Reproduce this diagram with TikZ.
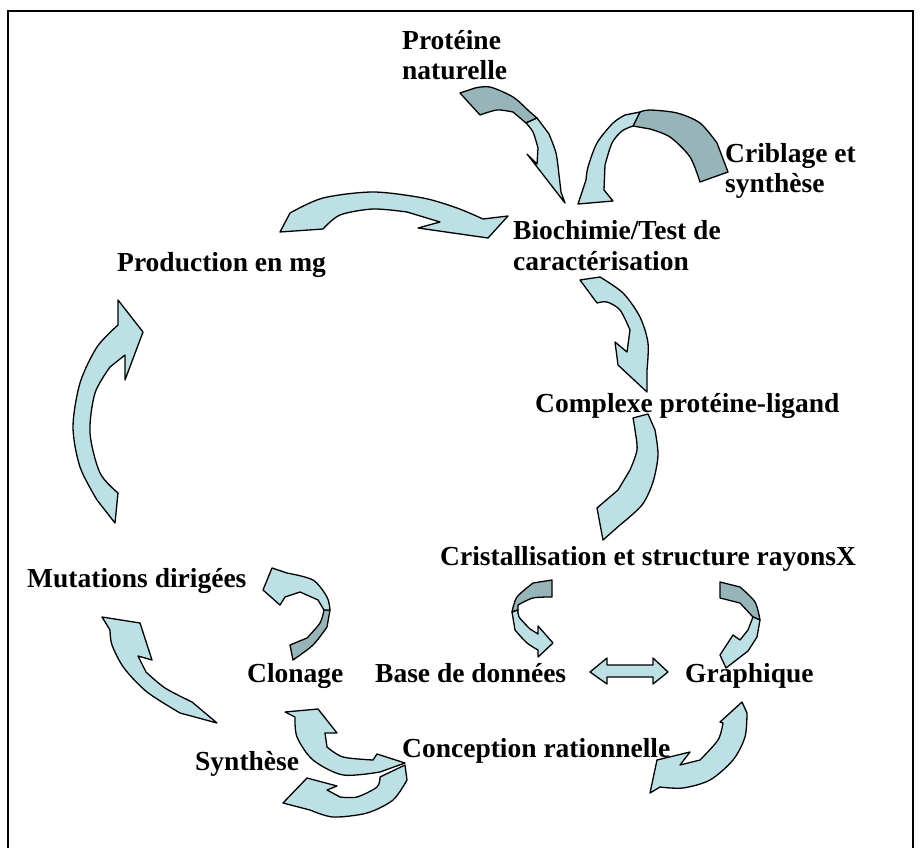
\documentclass[tikz,border=0pt]{standalone}
\usepackage{fontspec}
\setmainfont{Liberation Serif}
\definecolor{lite}{RGB}{188,224,228}
\definecolor{dark}{RGB}{151,181,184}
\tikzset{
  body/.style={fill=lite,draw=black,line width=1.3pt,line join=round},
  back/.style={fill=dark,draw=black,line width=1.3pt,line join=round},
  lbl/.style={anchor=base west,inner sep=0pt,font=\fontsize{27.5}{31}\selectfont\bfseries},
}
% label: name, x, y, text
\newcommand\lab[4]{\node[lbl] (#1) at (#2,#3) {#4};}
\begin{document}
\begin{tikzpicture}[x=1pt,y=-1pt]
\useasboundingbox (0,0) rectangle (921,848);
\draw[line width=2.2pt] (8,848) -- (8,11) -- (913,11) -- (913,848);

% ---- labels
\lab{prot1}{402}{50}{Protéine}
\lab{prot2}{402}{80}{naturelle}
\lab{crib1}{725}{162}{Criblage et}
\lab{crib2}{725}{193}{synthèse}
\lab{bio1}{513}{239}{Biochimie/Test de}
\lab{bio2}{513}{270}{caractérisation}
\lab{prod}{117}{271}{Production en mg}
\lab{cplx}{535}{412}{Complexe protéine-ligand}
\lab{crist}{440}{565}{Cristallisation et structure rayonsX}
\lab{base}{375}{682}{Base de données}
\lab{graph}{685}{682}{Graphique}
\lab{clon}{247}{682}{Clonage}
\lab{mut}{27}{587}{Mutations dirigées}
\lab{synth}{195}{770}{Synthèse}
\lab{conc}{402}{757}{Conception rationnelle}

% ---- natural protein -> biochemistry
\draw[back] (460,93) -- plot[smooth] coordinates {(475,88) (490,87) (513,97) (530,112) (537,118)}
  -- (526,123) -- plot[smooth] coordinates {(513,112) (497,110) (480,115)} -- cycle;
\draw[body] (537,118) -- plot[smooth] coordinates {(549,134) (556,153) (559,175) (561,192)}
  -- (565,203) -- (527,154) -- (537,164)
  -- plot[smooth] coordinates {(538,148) (533,132) (526,123)} -- cycle;

% ---- screening loop
\draw[back] (700,182) -- (728,172) -- plot[smooth] coordinates {(717,143) (700,123) (677,113) (650,110) (640,112)}
  -- (633,126) -- plot[smooth] coordinates {(650,129) (670,137) (690,157) (700,182)} -- cycle;
\draw[body] (640,112) -- plot[smooth] coordinates {(625,115) (613,123) (597,143) (588,167) (586,180)}
  -- (578,204) -- (613,201) -- (604,190)
  -- plot[smooth] coordinates {(605,165) (612,143) (622,131) (633,126)} -- cycle;

% ---- production -> biochemistry
\draw[body] (280,232) -- plot[smooth] coordinates {(290,213) (323,198) (373,192) (423,198) (457,208) (483,219)}
  -- (508,216) -- (488,238) -- (418,228) -- (440,222)
  -- plot[smooth] coordinates {(407,212) (373,209) (340,215) (323,229)} -- cycle;

% ---- biochemistry -> complex
\draw[body] (580,280) -- plot[smooth] coordinates {(600,277) (623,293) (640,317) (648,343) (647,370)}
  -- (647,392) -- (618,365) -- (615,342) -- (627,352)
  -- plot[smooth] coordinates {(630,330) (620,310) (607,302) (597,303)} -- cycle;

% ---- complex -> crystallisation
\draw[body] (648,414) -- plot[smooth] coordinates {(655,430) (658,455) (653,482) (642,505) (620,525)}
  -- (603,540) -- (597,508) -- (618,490)
  -- plot[smooth] coordinates {(630,470) (637,450) (635,430) (633,418)} -- cycle;

% ---- crystallisation -> database
\draw[back] (552,580) -- plot[smooth] coordinates {(533,583) (517,597) (512,612)}
  -- (518,610) -- plot[smooth] coordinates {(518,605) (533,598) (552,597)} -- cycle;
\draw[body] (512,612) -- plot[smooth] coordinates {(515,630) (527,643) (538,650)}
  -- (538,657) -- (553,643) -- (538,626) -- (538,634)
  -- plot[smooth] coordinates {(530,629) (519,617) (518,610)} -- cycle;

% ---- crystallisation -> graphics
\draw[back] (720,582) -- plot[smooth] coordinates {(740,587) (755,602) (760,620)}
  -- (753,617) -- plot[smooth] coordinates {(740,603) (720,598)} -- cycle;
\draw[body] (760,620) -- plot[smooth] coordinates {(757,637) (748,651)}
  -- (726,668) -- (720,655) -- (733,635) -- (740,640)
  -- plot[smooth] coordinates {(748,630) (753,617)} -- cycle;

% ---- database <-> graphics
\draw[body] (590,672) -- (607,658) -- (607,665) -- (653,665) -- (653,658) -- (668,672)
  -- (653,684) -- (653,677) -- (607,677) -- (607,684) -- cycle;

% ---- graphics -> rational design
\draw[body] (742,702) -- plot[smooth] coordinates {(747,713) (745,737) (733,760) (710,780) (683,788) (660,787)}
  -- (650,793) -- (657,760) -- (690,752) -- (680,765)
  -- plot[smooth] coordinates {(700,760) (718,740) (723,723)} -- (720,722) -- cycle;

% ---- rational design -> cloning
\draw[body] (285,712) -- (318,709) -- (337,733) -- (325,733)
  -- plot[smooth] coordinates {(327,747) (343,757) (373,760)} -- (377,754) -- (405,763)
  -- plot[smooth] coordinates {(380,772) (343,775) (313,760) (297,737) (295,717)} -- cycle;

% ---- rational design -> synthesis
\draw[body] (405,765) -- plot[smooth] coordinates {(407,780) (393,800) (367,813) (333,817) (310,810)}
  -- (283,803) -- (307,778) -- (337,786) -- (327,790)
  -- plot[smooth] coordinates {(340,797) (357,797) (377,787) (380,777)} -- cycle;

% ---- cloning -> directed mutations
\draw[back] (330,610) -- plot[smooth] coordinates {(327,627) (313,645) (293,660)}
  -- (290,645) -- plot[smooth] coordinates {(307,638) (320,623) (324,610)} -- cycle;
\draw[body] (263,590) -- (272,568) -- plot[smooth] coordinates {(287,573) (313,580) (327,597) (330,610)}
  -- (324,610) -- plot[smooth] coordinates {(318,600) (300,592)} -- (285,597) -- (280,605) -- cycle;

% ---- synthesis -> directed mutations
\draw[body] (217,723) -- plot[smooth] coordinates {(180,713) (147,692) (124,668) (112,645) (110,630)}
  -- (102,617) -- (140,623) -- (152,660) -- (138,656)
  -- plot[smooth] coordinates {(146,672) (165,688) (192,702)} -- cycle;

% ---- directed mutations -> production
\draw[body] (115,523) -- plot[smooth] coordinates {(97,500) (80,467) (73,427) (80,383) (97,347) (118,325)}
  -- (118,300) -- (143,332) -- (125,380) -- (125,355)
  -- plot[smooth] coordinates {(110,367) (95,393) (90,433) (100,473) (118,493)} -- cycle;
\end{tikzpicture}
\end{document}
